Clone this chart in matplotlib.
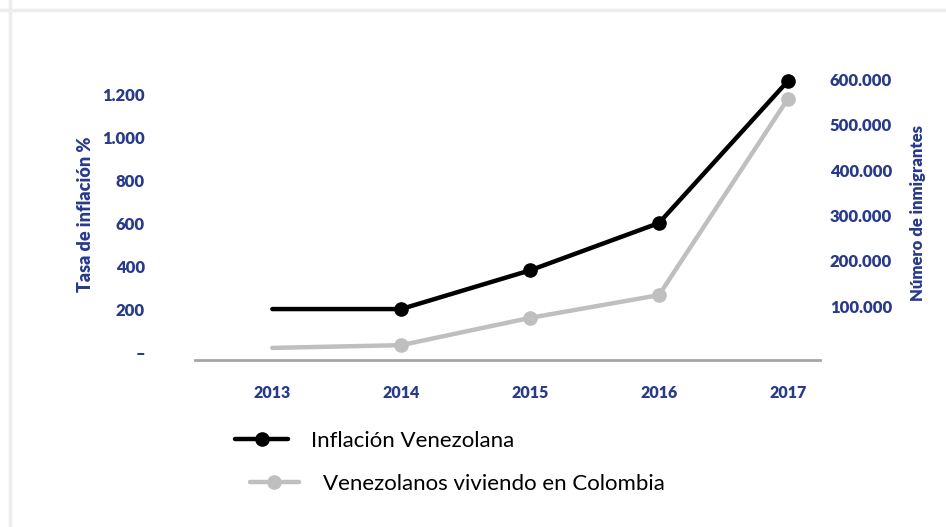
import matplotlib.pyplot as plt
from matplotlib.lines import Line2D

# datos
years = [2013, 2014, 2015, 2016, 2017]
inflacion = [200, 200, 380, 600, 1260]
inmigrantes = [9000, 15000, 75000, 125000, 556000]

left_ticks = [0, 200, 400, 600, 800, 1000, 1200]
left_labels = ['–', '200', '400', '600', '800', '1.000', '1.200']
right_ticks = [100000, 200000, 300000, 400000, 500000, 600000]
right_labels = ['100.000', '200.000', '300.000', '400.000', '500.000', '600.000']

navy = '#283a8a'
black = '#000000'
gray = '#bfbfbf'

plt.rcParams['font.family'] = ['Lato', 'DejaVu Sans']

fig = plt.figure(figsize=(9.46, 5.27), dpi=100)
W, H = 946, 527

# borde claro arriba y a la izquierda
fig.add_artist(Line2D([0, 1], [1 - 9.5 / H, 1 - 9.5 / H], color='#ececec', lw=2.5))
fig.add_artist(Line2D([9.5 / W, 9.5 / W], [0, 1], color='#ececec', lw=2.5))

ax = fig.add_axes([195 / W, (H - 360) / H, 625 / W, 290 / H])
ax2 = ax.twinx()

ax.set_xlim(2012.40, 2017.25)
ax.set_ylim(-37, 1312)
ax2.set_ylim(-17600, 619800)

l1, = ax.plot(years, inflacion, '-o', color=black, lw=3.2, ms=9.5,
              markevery=[1, 2, 3, 4], solid_capstyle='round', zorder=3)
l2, = ax2.plot(years, inmigrantes, '-o', color=gray, lw=3.2, ms=9.5,
               markevery=[1, 2, 3, 4], solid_capstyle='round', zorder=2)

for a in (ax, ax2):
    for s in a.spines.values():
        s.set_visible(False)
ax.spines['bottom'].set_visible(True)
ax.spines['bottom'].set_color('#a6a6a6')
ax.spines['bottom'].set_linewidth(2)

ax.set_xticks(years)
ax.set_xticklabels([str(y) for y in years])
ax.tick_params(axis='x', length=0, pad=18, labelsize=11.5, labelcolor=navy)

ax.set_yticks(left_ticks)
ax.set_yticklabels(left_labels)
ax.tick_params(axis='y', length=0, pad=36, labelsize=12, labelcolor=navy)

ax2.set_yticks(right_ticks)
ax2.set_yticklabels(right_labels)
ax2.tick_params(axis='y', length=0, pad=7, labelsize=12, labelcolor=navy)

for lab in ax.get_xticklabels() + ax.get_yticklabels() + ax2.get_yticklabels():
    lab.set_fontweight('heavy')

fig.text(85 / W, 1 - 214 / H, 'Tasa de inflación %', rotation=90, ha='center',
         va='center', color=navy, fontsize=13, fontweight='heavy')
fig.text(918 / W, 1 - 213 / H, 'Número de inmigrantes', rotation=90, ha='center',
         va='center', color=navy, fontsize=12, fontweight='heavy')

leg1 = fig.legend([l1], ['Inflación Venezolana'],
                  loc='center left', bbox_to_anchor=(215 / W, 1 - 441 / H), frameon=False,
                  fontsize=16, handlelength=2.4, handletextpad=1.0)
leg2 = fig.legend([l2], ['Venezolanos viviendo en Colombia'],
                  loc='center left', bbox_to_anchor=(230 / W, 1 - 484 / H), frameon=False,
                  fontsize=16, handlelength=2.2, handletextpad=1.1)

plt.savefig('out.png', dpi=100)
